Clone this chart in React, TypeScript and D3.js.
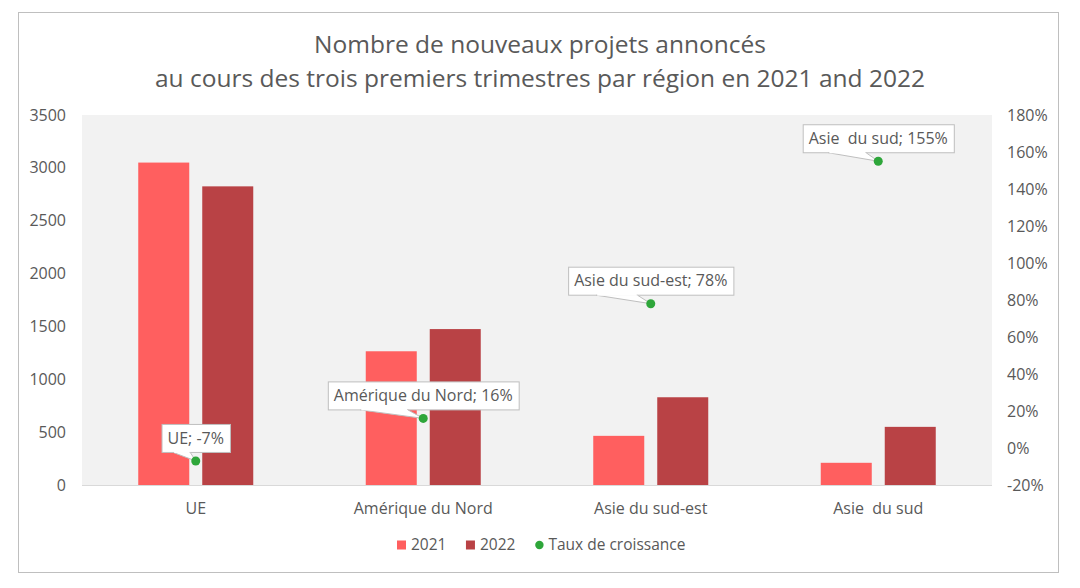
import React, { useEffect, useRef } from "react";
import * as d3 from "d3";

const categories = ["UE", "Amérique du Nord", "Asie du sud-est", "Asie  du sud"];
const series = ["2021", "2022"];
const values2021 = [3050, 1265, 465, 210];
const values2022 = [2825, 1475, 830, 550];
const growth = [-7, 16, 78, 155];
const leftTicks = [0, 500, 1000, 1500, 2000, 2500, 3000, 3500];
const rightTicks = [-20, 0, 20, 40, 60, 80, 100, 120, 140, 160, 180];
const titleLines = [
  "Nombre de nouveaux projets annoncés",
  "au cours des trois premiers trimestres par région en 2021 and 2022",
];
const growthLabel = "Taux de croissance";

const COLORS = ["#FF5F5F", "#B94245"];
const GREEN = "#2EA63A";
const TEXT = "#595959";
const FONT = "'Open Sans', sans-serif";

export default function App() {
  const ref = useRef<SVGSVGElement | null>(null);

  useEffect(() => {
    const svg = d3.select(ref.current);
    svg.selectAll("*").remove();
    const plot = { left: 82, right: 992, top: 115, bottom: 485 };

    // outer border
    svg.append("rect").attr("x", 18.5).attr("y", 12.5).attr("width", 1040).attr("height", 560)
      .attr("fill", "#fff").attr("stroke", "#BFBFBF").attr("stroke-width", 1);

    // title
    titleLines.forEach((t, i) => {
      svg.append("text").attr("x", 540).attr("y", 53 + i * 34).attr("text-anchor", "middle")
        .attr("font-family", FONT).attr("font-size", 24.5).attr("fill", TEXT).text(t);
    });

    // plot background
    svg.append("rect").attr("x", plot.left).attr("y", plot.top)
      .attr("width", plot.right - plot.left).attr("height", plot.bottom - plot.top).attr("fill", "#F2F2F2");

    const yL = d3.scaleLinear().domain([0, 3500]).range([plot.bottom, plot.top]);
    const yR = d3.scaleLinear().domain([-20, 180]).range([plot.bottom, plot.top]);
    const p0 = 1 - 115 / 227.5;
    const x0 = d3.scaleBand<string>().domain(categories).range([plot.left, plot.right])
      .paddingInner(p0).paddingOuter(p0 / 2);
    const x1 = d3.scaleBand<string>().domain(series).range([0, x0.bandwidth()])
      .paddingInner(0.203).paddingOuter(0);

    // left axis labels
    leftTicks.forEach((t) => {
      svg.append("text").attr("x", 66).attr("y", yL(t)).attr("dy", "0.35em").attr("text-anchor", "end")
        .attr("font-family", FONT).attr("font-size", 16).attr("fill", TEXT).text(String(t));
    });
    // right axis labels
    rightTicks.forEach((t) => {
      svg.append("text").attr("x", 1007).attr("y", yR(t)).attr("dy", "0.35em").attr("text-anchor", "start")
        .attr("font-family", FONT).attr("font-size", 16).attr("fill", TEXT).text(`${t}%`);
    });

    // bars
    const data = [values2021, values2022];
    categories.forEach((c, i) => {
      series.forEach((s, j) => {
        const v = data[j][i];
        svg.append("rect").attr("x", (x0(c) as number) + (x1(s) as number)).attr("y", yL(v))
          .attr("width", x1.bandwidth()).attr("height", yL(0) - yL(v)).attr("fill", COLORS[j]);
      });
    });

    // baseline
    svg.append("line").attr("x1", plot.left).attr("x2", plot.right).attr("y1", plot.bottom + 0.5)
      .attr("y2", plot.bottom + 0.5).attr("stroke", "#D9D9D9").attr("stroke-width", 1);

    // category labels
    categories.forEach((c) => {
      svg.append("text").attr("x", (x0(c) as number) + x0.bandwidth() / 2).attr("y", 508)
        .attr("dy", "0.35em").attr("text-anchor", "middle")
        .style("white-space", "pre")
        .attr("font-family", FONT).attr("font-size", 16).attr("fill", TEXT).text(c);
    });

    // growth points + callouts
    categories.forEach((c, i) => {
      const cx = (x0(c) as number) + x0.bandwidth() / 2;
      const cy = yR(growth[i]);
      const label = `${c}; ${growth[i]}%`;
      const g = svg.append("g");
      const txt = g.append("text").attr("x", cx).attr("y", cy - 9 - 14).attr("dy", "0.35em")
        .attr("text-anchor", "middle").style("white-space", "pre")
        .attr("font-family", FONT).attr("font-size", 16).attr("fill", TEXT).text(label);
      const tw = (txt.node() as SVGTextElement).getComputedTextLength();
      const bw = tw + 12;
      const bx = cx - bw / 2;
      const by = cy - 9 - 28;
      g.insert("rect", "text").attr("x", bx + 0.5).attr("y", by + 0.5).attr("width", bw).attr("height", 28)
        .attr("fill", "#fff").attr("stroke", "#BFBFBF").attr("stroke-width", 1);
      const bottom = by + 28.5;
      g.insert("path", "text")
        .attr("d", `M${bx + 0.17 * bw},${bottom} L${cx},${cy} L${bx + 0.42 * bw},${bottom}`)
        .attr("fill", "#fff").attr("stroke", "#BFBFBF").attr("stroke-width", 1);
      g.insert("rect", "text").attr("x", bx + 0.17 * bw + 1).attr("y", bottom - 1.5)
        .attr("width", 0.25 * bw - 2).attr("height", 2).attr("fill", "#fff");
      svg.append("circle").attr("cx", cx).attr("cy", cy).attr("r", 4.5).attr("fill", GREEN);
    });

    // legend
    const ly = 545;
    const items = [
      { label: series[0], type: "rect", color: COLORS[0] },
      { label: series[1], type: "rect", color: COLORS[1] },
      { label: growthLabel, type: "circle", color: GREEN },
    ];
    let lx = 397;
    items.forEach((it) => {
      if (it.type === "rect") {
        svg.append("rect").attr("x", lx).attr("y", ly - 4.5).attr("width", 9).attr("height", 9).attr("fill", it.color);
      } else {
        svg.append("circle").attr("cx", lx + 4.5).attr("cy", ly).attr("r", 4.2).attr("fill", it.color);
      }
      const tx = it.type === "rect" ? lx + 14 : lx + 13.5;
      const t = svg.append("text").attr("x", tx).attr("y", ly).attr("dy", "0.35em")
        .attr("font-family", FONT).attr("font-size", 15.5).attr("fill", TEXT).text(it.label);
      const w = (t.node() as SVGTextElement).getComputedTextLength();
      lx = tx + w + 19.5;
    });
  }, []);

  return (
    <svg ref={ref} width={1080} height={588}
      style={{ position: "absolute", left: 0, top: 0, background: "#fff" }} />
  );
}
